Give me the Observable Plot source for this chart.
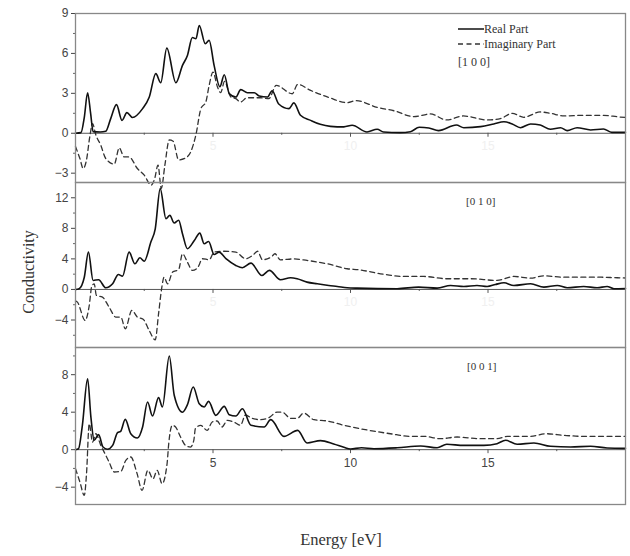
<!DOCTYPE html>
<html><head><meta charset="utf-8">
<script src="https://cdn.jsdelivr.net/npm/d3@7"></script>
<script src="https://cdn.jsdelivr.net/npm/@observablehq/plot@0.6"></script>
<style>
body{margin:0;background:#fff;}
#wrap{position:relative;width:630px;height:556px;overflow:hidden;}
.abs{position:absolute;}
.serif{font-family:"Liberation Serif","Times New Roman",serif;color:#333;white-space:nowrap;}
</style>
</head><body><div id="wrap"></div>
<script>
// ---------- data ----------
const e100Re = [0,0.2,0.32,0.44,0.55,0.64,0.9,1.1,1.28,1.49,1.69,1.87,2.07,2.44,2.68,2.92,3.1,3.32,3.65,3.89,4.07,4.25,4.38,4.5,4.72,4.86,5.04,5.25,5.41,5.59,5.83,6.01,6.25,6.5,6.68,6.98,7.15,7.39,7.76,7.94,8.18,8.55,8.9,9.27,9.76,10.06,10.6,10.97,11.2,11.8,12.18,12.5,12.85,13.2,13.85,14.12,14.73,15.21,15.58,15.88,16.18,16.55,16.9,17.27,17.64,17.88,18.24,18.73,19.2,19.5,20];
const v100Re = [0,0.05,1.2,3.05,1.5,0.12,0.1,0.15,1.1,2.15,0.97,1.55,1.18,1.85,2.7,4.48,3.8,6.4,3.8,5.1,5.85,7.2,7.1,8.1,6.73,6.98,5.1,3.5,4.4,2.98,2.72,3.28,3.05,3.05,2.8,2.72,3.2,2.2,1.85,2.28,1.35,0.97,0.67,0.52,0.48,0.6,0.1,0.3,0.1,0.05,0.12,0.45,0.4,0.2,0.62,0.42,0.5,0.7,0.87,0.7,0.42,0.7,0.62,0.3,0.42,0.2,0.42,0.25,0.32,0.07,0.07];
const e100Im = [0,0.16,0.28,0.4,0.52,0.62,0.74,0.92,1.1,1.41,1.59,1.77,1.95,2.25,2.5,2.75,2.88,3.0,3.12,3.25,3.41,3.55,3.75,4.01,4.19,4.38,4.56,4.74,4.86,5.0,5.16,5.28,5.42,5.65,5.83,6.0,6.24,6.73,7.03,7.3,7.88,8.08,8.55,9.2,9.88,10.2,10.97,11.6,12.3,12.9,13.5,14.1,14.97,15.45,15.88,16.3,16.9,17.27,17.76,18.48,19.2,19.8,20];
const v100Im = [-1.0,-1.9,-2.65,-2.0,-0.25,0.72,-0.13,-0.9,-1.9,-2.32,-1.1,-1.78,-1.78,-2.65,-3.15,-3.9,-3.4,-2.4,-4.15,-2.4,-0.5,-0.6,-2.0,-1.85,-1.4,-0.1,1.85,2.35,3.6,4.6,3.5,3.05,3.9,2.72,2.6,2.35,2.67,2.67,2.6,3.6,2.97,3.67,3.22,2.7,2.3,2.45,1.95,1.68,1.25,1.45,1.0,1.3,1.0,1.1,1.5,1.2,1.6,1.5,1.3,1.35,1.35,1.22,1.2];

const e010Re = [0,0.13,0.32,0.47,0.64,0.84,1.1,1.35,1.56,1.71,1.95,2.16,2.34,2.5,2.74,2.9,3.08,3.29,3.43,3.59,3.75,3.89,4.07,4.32,4.52,4.68,4.84,5.04,5.22,5.47,5.83,6.07,6.38,6.78,7.05,7.45,7.82,8.06,8.42,8.79,9.21,9.52,9.88,10.24,11.7,12.48,13.15,13.64,14.12,14.6,14.97,15.27,15.58,15.94,16.55,17.03,17.52,17.88,18.48,18.97,19.33,19.58,20];
const v010Re = [0,0.1,1.6,4.88,1.18,1.27,0.22,0.74,1.96,1.74,4.88,3.36,4.15,3.7,6.2,7.94,13.2,9.25,9.7,8.7,9.05,7.3,5.33,6.4,7.37,5.98,6.28,4.58,4.88,4.02,3.14,2.84,3.44,1.83,2.5,1.27,1.53,1.4,0.96,0.74,0.52,0.39,0.22,0.17,0.1,0.3,0.17,0.52,0.39,0.52,0.39,0.65,0.87,0.52,0.74,0.3,0.52,0.22,0.39,0.22,0.39,0.1,0.13];
const e010Im = [0,0.07,0.35,0.5,0.59,0.68,0.76,0.98,1.22,1.47,1.65,1.81,2.05,2.25,2.46,2.68,2.9,3.02,3.14,3.22,3.35,3.53,3.75,3.89,4.07,4.25,4.44,4.62,4.86,5.04,5.35,5.83,6.19,6.44,6.62,6.8,7.14,7.25,7.45,7.94,8.42,9.15,9.88,10.3,11.09,11.94,12.67,13.5,14.36,15.33,15.94,16.55,17.03,17.76,18.48,19.09,19.7,20];
const v010Im = [-1.5,-1.66,-4.06,-2.1,0.39,0.74,-0.78,-1.0,-2.3,-3.62,-3.62,-5.15,-2.75,-3.62,-3.9,-5.37,-6.6,-3.2,0.3,1.6,0.74,2.27,2.58,4.67,3.58,2.49,2.84,4.02,3.89,4.88,5.0,4.88,4.02,4.45,5.0,3.89,4.32,4.67,3.88,4.0,3.8,3.36,2.71,2.58,2.05,1.7,1.7,1.4,1.4,1.18,1.7,1.48,1.79,1.6,1.6,1.6,1.53,1.5];

const e001Re = [0,0.11,0.25,0.44,0.56,0.68,0.84,1.0,1.16,1.35,1.53,1.64,1.81,2.01,2.25,2.44,2.62,2.8,3.02,3.16,3.41,3.59,3.89,4.07,4.28,4.5,4.68,4.84,5.1,5.41,5.59,5.83,6.07,6.38,6.86,7.1,7.58,8.08,8.42,8.91,9.39,9.76,10.0,10.4,10.85,11.7,12.55,13.15,13.5,14.12,14.85,15.33,15.64,16.06,16.67,17.27,18.0,18.73,19.33,20];
const v001Re = [0,0.1,2.6,7.57,3.48,1.0,1.6,0.28,0.05,0.46,1.81,1.95,3.23,1.7,1.24,2.42,5.08,3.59,5.55,4.55,9.99,5.8,4.0,4.8,6.68,4.9,4.55,5.15,3.66,4.62,3.73,3.59,4.37,2.6,2.42,3.2,1.42,2.06,0.71,0.96,0.6,0.25,0.07,0.2,0.1,0.2,0.39,0.2,0.57,0.46,0.46,0.64,1.0,0.57,0.71,0.36,0.28,0.36,0.18,0.14];
const e001Im = [0,0.16,0.32,0.4,0.5,0.62,0.74,0.92,1.1,1.22,1.41,1.65,1.83,2.01,2.24,2.42,2.63,2.82,2.97,3.15,3.33,3.39,3.52,3.64,3.82,4.0,4.18,4.3,4.36,4.55,4.79,4.97,5.15,5.33,5.52,5.76,6.0,6.18,6.42,6.73,7.03,7.33,7.52,7.82,8.06,8.3,8.67,9.15,9.76,10.6,11.45,12.18,12.67,13.27,13.88,14.73,15.33,15.7,16.55,17.1,17.76,18.48,19.2,20];
const v001Im = [-2.03,-3.45,-4.87,-2.6,2.77,0.8,1.7,0.46,-0.6,-1.32,-2.38,-2.31,-1.14,-0.78,-2.56,-4.34,-2.2,-3.1,-2.2,-3.63,-1.5,0.64,2.6,2.42,1.35,0.46,0.28,0.96,2.24,2.6,2.06,2.95,3.06,2.42,3.13,2.95,2.6,3.7,3.34,3.2,3.41,4.0,4.0,3.34,3.34,3.9,3.2,3.06,2.6,2.1,1.7,1.42,1.42,1.17,1.35,1.17,1.17,1.42,1.42,1.7,1.53,1.42,1.42,1.42];

const xMajor = [5,10,15];
const xMinor = [2.5,7.5,12.5,17.5];
const xLabels = ["5","10","15"];

const panels = [
  {name:"[1 0 0]", eRe:e100Re, vRe:v100Re, eIm:e100Im, vIm:v100Im, domain:[-3.7,9],  major:[-3,0,3,6,9],   minor:[-1.5,1.5,4.5,7.5], top:13,  height:169, labelFill:"#f0f0f0"},
  {name:"[0 1 0]", eRe:e010Re, vRe:v010Re, eIm:e010Im, vIm:v010Im, domain:[-7.6,14], major:[-4,0,4,8,12],  minor:[-6,-2,2,6,10],     top:182, height:165, labelFill:"#f0f0f0"},
  {name:"[0 0 1]", eRe:e001Re, vRe:v001Re, eIm:e001Im, vIm:v001Im, domain:[-5.85,10.9], major:[-4,0,4,8], minor:[-2,2,6,10],        top:347, height:157, labelFill:"#444"}
];

const wrap = document.getElementById("wrap");

panels.forEach(p => {
  const re = p.eRe.map((e,i)=>({e, v:p.vRe[i]}));
  const im = p.eIm.map((e,i)=>({e, v:p.vIm[i]}));
  const chart = Plot.plot({
    width:630, height:p.height,
    marginLeft:75, marginRight:5, marginTop:0, marginBottom:0,
    x:{domain:[0,20], axis:null},
    y:{domain:p.domain, axis:null},
    style:{background:"transparent", overflow:"visible", fontFamily:"'Liberation Sans', Arial, sans-serif"},
    marks:[
      Plot.ruleY([0], {stroke:"#555", strokeWidth:1}),
      Plot.ruleX(xMajor, {x:d=>d, y1:0, y2:0, insetBottom:-4, stroke:"#555"}),
      Plot.ruleX(xMinor, {x:d=>d, y1:0, y2:0, insetBottom:-2, stroke:"#555"}),
      Plot.text(xMajor, {x:d=>d, y:0, dy:13, text:(d,i)=>xLabels[i], fontSize:12, fill:p.labelFill}),
      Plot.axisY({ticks:p.minor, tickSize:2, tickFormat:()=>"", label:null, stroke:"#666"}),
      Plot.axisY({ticks:p.major, tickSize:4, tickPadding:3, label:null, fontSize:12, color:"#444"}),
      Plot.line(im, {x:"e", y:"v", curve:"monotone-x", stroke:"#333", strokeWidth:1.3, strokeDasharray:"5,3.5"}),
      Plot.line(re, {x:"e", y:"v", curve:"monotone-x", stroke:"#111", strokeWidth:1.6}),
      Plot.frame({stroke:"#888", strokeWidth:1.3})
    ]
  });
  chart.style.position = "absolute";
  chart.style.left = "0px";
  chart.style.top = p.top + "px";
  wrap.appendChild(chart);
});

// direction labels and legend
function addText(txt, left, top, size, extra) {
  const d = document.createElement("div");
  d.className = "abs serif";
  d.style.left = left + "px"; d.style.top = top + "px";
  d.style.fontSize = size + "px"; d.style.lineHeight = "1";
  if (extra) Object.assign(d.style, extra);
  d.textContent = txt;
  wrap.appendChild(d);
  return d;
}
addText("Real Part", 484, 23, 12);
addText("Imaginary Part", 484, 38, 12);
addText(panels[0].name, 458, 56, 12);
addText(panels[1].name, 466, 196, 11);
addText(panels[2].name, 467, 361, 11);

const leg = d3.select(wrap).append("svg").attr("class","abs")
  .style("left","456px").style("top","20px").attr("width",30).attr("height",30);
leg.append("line").attr("x1",2).attr("x2",28).attr("y1",9).attr("y2",9).attr("stroke","#111").attr("stroke-width",1.5);
leg.append("line").attr("x1",2).attr("x2",28).attr("y1",24).attr("y2",24).attr("stroke","#333").attr("stroke-width",1.3).attr("stroke-dasharray","5,3.5");

addText("Conductivity", 29, 272, 16, {transform:"translate(-50%,-50%) rotate(-90deg)"});
addText("Energy [eV]", 341, 540, 16.5, {transform:"translate(-50%,-50%)"});
</script>
</body></html>
